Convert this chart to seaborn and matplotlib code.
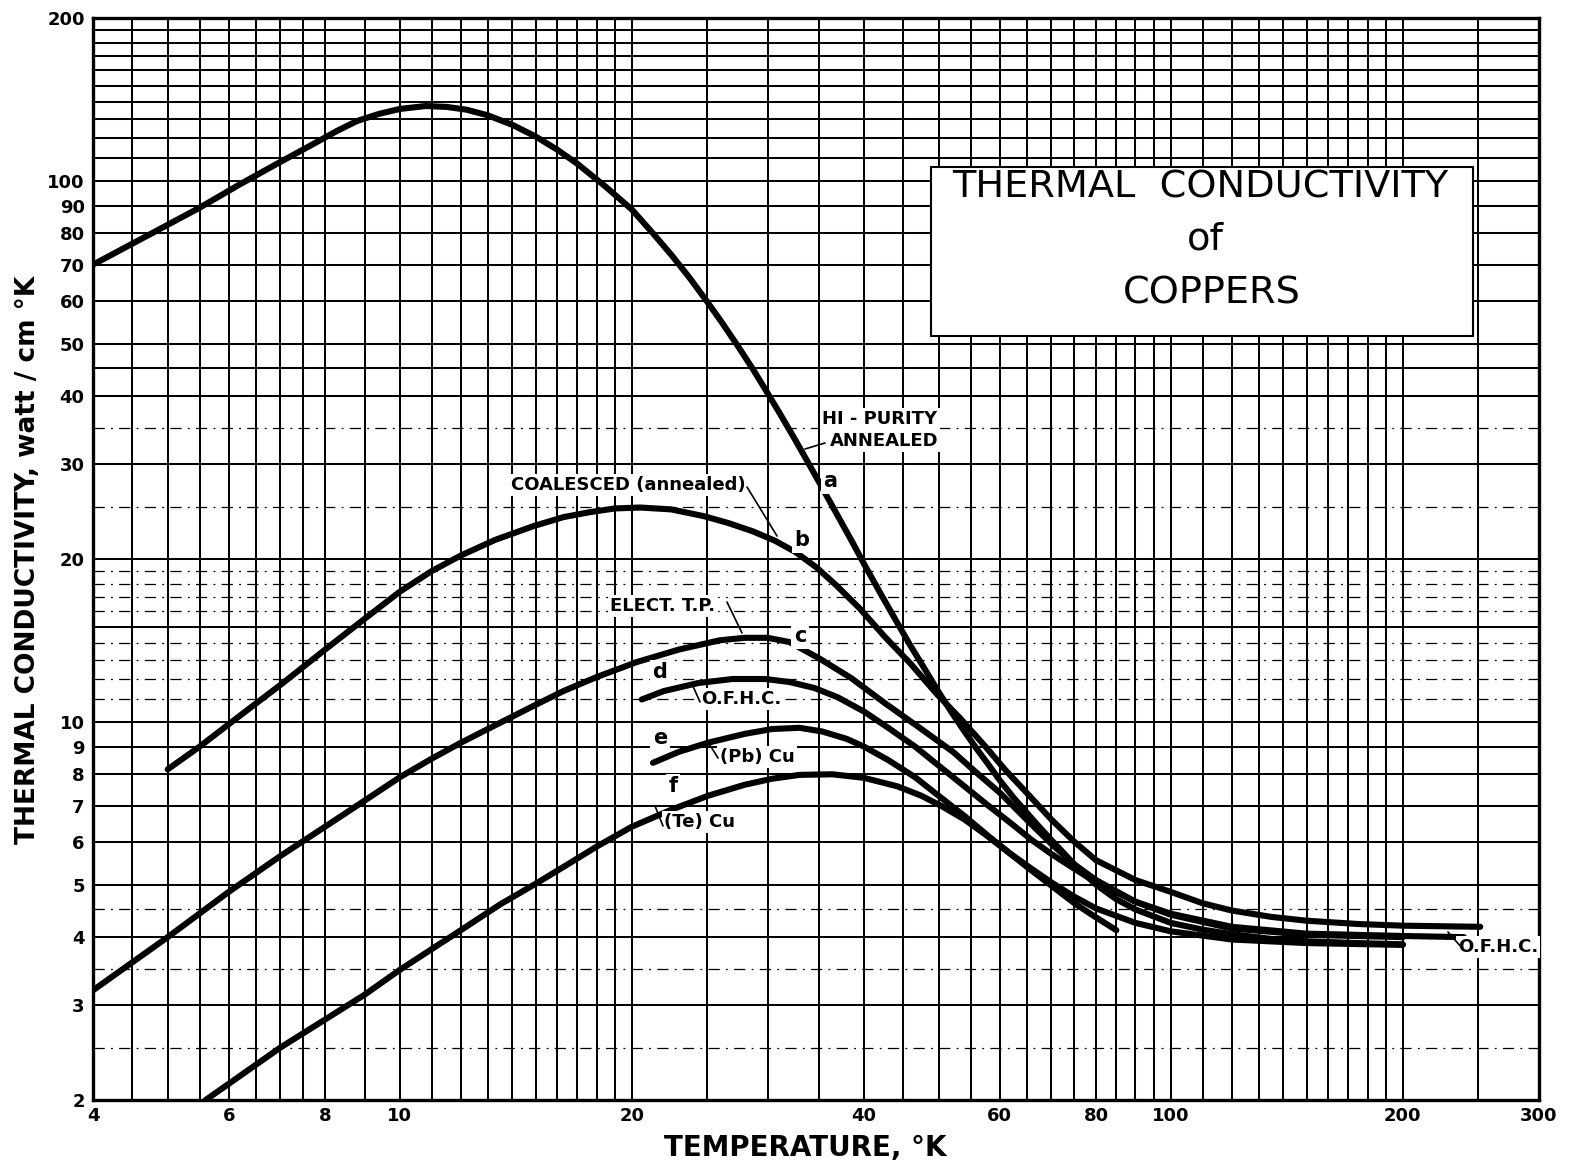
import numpy as np
import pandas as pd
import matplotlib
matplotlib.use("Agg")
import matplotlib.pyplot as plt
import seaborn as sns
from matplotlib.ticker import FixedLocator, NullFormatter, FixedFormatter
from matplotlib.patches import Rectangle

# ---------------- data ----------------
a_T = [4, 4.8, 5.5, 6.2, 7, 7.7, 8.3, 8.8, 9.4, 10, 10.8, 11.5, 12.2, 13, 14, 15, 16, 17, 18.5, 20,
       21.2, 22.5, 23.7, 25, 26.2, 27.5, 28.7, 30, 31.2, 32.5, 33.7, 35, 36.2, 37.5, 38.7, 40, 42, 44,
       46, 48, 50, 52, 54, 56, 58, 60, 62.5, 65, 67.5, 70, 75, 80, 85, 90, 100, 110, 120, 135, 150, 175, 200]
a_k = [70, 80.4, 89.2, 98.5, 108.4, 116.7, 123.8, 129, 133, 135.8, 137.5, 137.0, 135.4, 132.2, 126.9, 120.8,
       114.2, 107.5, 97.5, 88.5, 80.6, 73, 66.5, 60, 54.6, 49.3, 44.9, 40.5, 36.9, 33.4, 30.5, 27.7, 25.4,
       23.2, 21.4, 19.6, 17.3, 15.4, 13.8, 12.5, 11.35, 10.4, 9.6, 8.92, 8.34, 7.8, 7.25, 6.8, 6.4, 6.05,
       5.45, 5.0, 4.7, 4.5, 4.25, 4.13, 4.05, 3.97, 3.93, 3.9, 3.88]

b_T = [5, 5.5, 6, 6.5, 7, 8, 9, 10, 11, 12, 13.3, 14.9, 16.3, 17.6, 19, 20.5, 22.5, 24.8, 26.7, 28.7,
       30.7, 32.6, 34.7, 36.8, 39.5, 42.5, 46, 49.6, 53.5, 57.5, 61, 65, 70, 75, 80, 90, 100, 110, 120,
       135, 150, 175, 200, 252]
b_k = [8.17, 9.0, 9.9, 10.8, 11.7, 13.6, 15.5, 17.4, 19.0, 20.3, 21.7, 23.0, 23.9, 24.4, 24.8, 24.9, 24.7,
       24.0, 23.3, 22.5, 21.6, 20.6, 19.3, 17.9, 16.2, 14.4, 12.8, 11.3, 10.1, 9.0, 8.15, 7.4, 6.6, 6.0,
       5.55, 5.1, 4.85, 4.62, 4.48, 4.36, 4.29, 4.23, 4.2, 4.18]

c_T = [4, 5, 6, 7, 8, 9, 10, 11, 12, 13.1, 15, 16.3, 18, 20.3, 23, 26, 28, 30, 32, 35, 38.5, 42.5, 47,
       52.2, 56, 60, 65, 70, 75, 80, 90, 100, 120, 150, 200]
c_k = [3.19, 4.0, 4.85, 5.65, 6.4, 7.15, 7.9, 8.55, 9.15, 9.75, 10.75, 11.4, 12.1, 12.9, 13.6, 14.15, 14.3,
       14.3, 14.05, 13.1, 12.05, 10.85, 9.8, 8.8, 8.05, 7.4, 6.6, 5.95, 5.45, 5.1, 4.65, 4.4, 4.15, 4.04, 4.0]

d_T = [20.6, 22, 24.4, 27, 29.8, 32, 34.5, 37, 40, 43, 46.6, 50, 54, 58, 62, 66, 70, 75, 80, 90, 100,
       120, 150, 200, 240]
d_k = [11.0, 11.4, 11.8, 12.0, 12.0, 11.85, 11.55, 11.1, 10.45, 9.75, 9.0, 8.3, 7.6, 7.0, 6.5, 6.05, 5.7,
       5.35, 5.05, 4.65, 4.42, 4.18, 4.06, 4.02, 4.0]

e_T = [21.3, 23, 25.1, 28, 30.4, 33, 35.3, 38, 40, 43, 46.6, 50, 54, 58, 62, 66, 70, 75, 80, 90, 100,
       120, 150, 200]
e_k = [8.4, 8.8, 9.15, 9.5, 9.7, 9.75, 9.6, 9.3, 9.0, 8.5, 7.9, 7.3, 6.7, 6.15, 5.7, 5.35, 5.05, 4.75,
       4.52, 4.25, 4.1, 3.96, 3.9, 3.87]

f_T = [5.6, 7, 9, 10, 12, 13.5, 15, 16.4, 18, 20, 22.5, 25.1, 28, 30.4, 33, 36.4, 40, 44.2, 47.5, 50.5,
       54, 57.4, 61, 65, 70, 75, 80, 85]
f_k = [2.0, 2.5, 3.13, 3.48, 4.12, 4.6, 5.02, 5.42, 5.88, 6.4, 6.88, 7.3, 7.65, 7.85, 7.98, 8.0, 7.88,
       7.6, 7.3, 6.98, 6.6, 6.2, 5.8, 5.4, 4.98, 4.62, 4.35, 4.12]

curve_ids = ["a", "b", "c", "d", "e", "f"]
curve_T = [a_T, b_T, c_T, d_T, e_T, f_T]
curve_k = [a_k, b_k, c_k, d_k, e_k, f_k]

x_solid = [4, 4.5, 5, 5.5, 6, 6.5, 7, 7.5, 8, 9, 10, 11, 12, 13, 14, 15, 16, 17, 18, 19, 20, 25, 30, 35, 40,
           45, 50, 55, 60, 65, 70, 75, 80, 85, 90, 95, 100, 110, 120, 130, 140, 150, 160, 170, 180, 190, 200, 250, 300]
x_labels = {4: "4", 6: "6", 8: "8", 10: "10", 20: "20", 40: "40", 60: "60", 80: "80",
            100: "100", 200: "200", 300: "300"}
y_solid = [2, 3, 4, 5, 6, 7, 8, 9, 10, 15, 20, 30, 40, 45, 50, 60, 70, 80, 90, 100,
           110, 120, 130, 140, 150, 160, 170, 180, 190, 200]
y_dashed = [2.5, 3.5, 4.5, 11, 12, 13, 14, 16, 17, 18, 19, 25, 35]
y_labels = {2: "2", 3: "3", 4: "4", 5: "5", 6: "6", 7: "7", 8: "8", 9: "9", 10: "10", 20: "20",
            30: "30", 40: "40", 50: "50", 60: "60", 70: "70", 80: "80", 90: "90", 100: "100", 200: "200"}

# ---------------- figure ----------------
sns.set_style("white")
plt.rcParams["font.family"] = ["DejaVu Sans"]
for key in ["text.color", "axes.labelcolor", "xtick.color", "ytick.color", "axes.edgecolor"]:
    plt.rcParams[key] = "black"

W, H = 1584, 1170
fig = plt.figure(figsize=(W / 100, H / 100), dpi=100)
X0, X1, Y0, Y1 = 93, 1538.6, 1100, 18
ax = fig.add_axes([X0 / W, 1 - Y0 / H, (X1 - X0) / W, (Y0 - Y1) / H])
ax.set_xscale("log")
ax.set_yscale("log")
ax.set_xlim(4, 300)
ax.set_ylim(2, 200)


def P(px, py):
    """full-image pixel -> data coordinates"""
    x = 4 * 10 ** ((px - X0) / (X1 - X0) * np.log10(75))
    y = 2 * 10 ** ((Y0 - py) / (Y0 - Y1) * 2)
    return x, y


df = pd.concat([pd.DataFrame({"T": t, "k": k, "curve": c})
                for c, t, k in zip(curve_ids, curve_T, curve_k)], ignore_index=True)
for c in curve_ids:
    sub = df[df["curve"] == c]
    sns.lineplot(data=sub, x="T", y="k", sort=False, estimator=None, color="black",
                 lw=4.4, ax=ax, solid_capstyle="round", solid_joinstyle="round", zorder=4)

# grid
ax.set_axisbelow(True)
ax.xaxis.set_major_locator(FixedLocator(x_solid))
ax.xaxis.set_major_formatter(FixedFormatter([x_labels.get(v, "") for v in x_solid]))
ax.xaxis.set_minor_locator(FixedLocator([]))
ax.xaxis.set_minor_formatter(NullFormatter())
ax.yaxis.set_major_locator(FixedLocator(y_solid))
ax.yaxis.set_major_formatter(FixedFormatter([y_labels.get(v, "") for v in y_solid]))
ax.yaxis.set_minor_locator(FixedLocator(y_dashed))
ax.yaxis.set_minor_formatter(NullFormatter())
ax.grid(True, which="major", color="black", lw=1.45)
ax.grid(True, which="minor", axis="y", color="black", lw=0.9, ls=(0, (9, 5, 1.5, 5)))
ax.tick_params(which="both", length=0)
ax.tick_params(axis="x", pad=5, labelsize=13)
ax.tick_params(axis="y", pad=6, labelsize=13)
for lab in ax.get_xticklabels() + ax.get_yticklabels():
    lab.set_fontweight("bold")
ax.set_xlabel("")
ax.set_ylabel("")
for s in ax.spines.values():
    s.set_color("black")
    s.set_linewidth(2.4)

# axis titles
fig.text(28 / W, 1 - 560 / H, "THERMAL CONDUCTIVITY, watt / cm °K", rotation=90,
         ha="center", va="center", fontsize=19, fontweight="bold")
fig.text(805 / W, 1 - 1148 / H, "TEMPERATURE, °K", ha="center", va="center",
         fontsize=20, fontweight="bold")

# title box
bx0, by0 = P(931, 336)
bx1, by1 = P(1473, 167)
ax.add_patch(Rectangle((bx0, by0), bx1 - bx0, by1 - by0, facecolor="white",
                       edgecolor="black", lw=1.5, zorder=2))
for txt, (px, py) in [("THERMAL  CONDUCTIVITY", (1200, 188)), ("of", (1205, 240)),
                      ("COPPERS", (1212, 293))]:
    ax.text(*P(px, py), txt, ha="center", va="center", fontsize=27.5, zorder=3)

# curve annotations
wb = dict(boxstyle="square,pad=0.12", facecolor="white", edgecolor="none")
ann = dict(ha="center", va="center", fontsize=13, fontweight="bold", zorder=5, bbox=wb)
small = dict(ha="center", va="center", fontsize=15, fontweight="bold", zorder=5, bbox=wb)
ax.text(*P(880, 419), "HI - PURITY", **ann)
ax.text(*P(884, 441), "ANNEALED", **ann)
ax.text(*P(628, 485), "COALESCED (annealed)", **ann)
ax.text(*P(663, 606), "ELECT. T.P.", **ann)
ax.text(*P(741, 699), "O.F.H.C.", **ann)
ax.text(*P(757, 757), "(Pb) Cu", **ann)
ax.text(*P(700, 822), "(Te) Cu", **ann)
ax.text(*P(1498, 947), "O.F.H.C.", **ann)
for t, (px, py) in [("a", (830, 481)), ("b", (802, 540)), ("c", (800, 636)),
                    ("d", (660, 672)), ("e", (660, 738)), ("f", (673, 786))]:
    ax.text(*P(px, py), t, **small)

leaders = [((825, 443), (805, 449)), ((747, 487), (777, 536)), ((727, 602), (742, 633)),
           ((692, 684), (700, 702)), ((708, 742), (718, 758)), ((655, 806), (663, 826)),
           ((1448, 932), (1462, 948))]
for (p0, p1) in leaders:
    x0, y0 = P(*p0)
    x1, y1 = P(*p1)
    ax.plot([x0, x1], [y0, y1], color="black", lw=1.2, zorder=5)

fig.savefig("out.png", dpi=100, facecolor="white")
